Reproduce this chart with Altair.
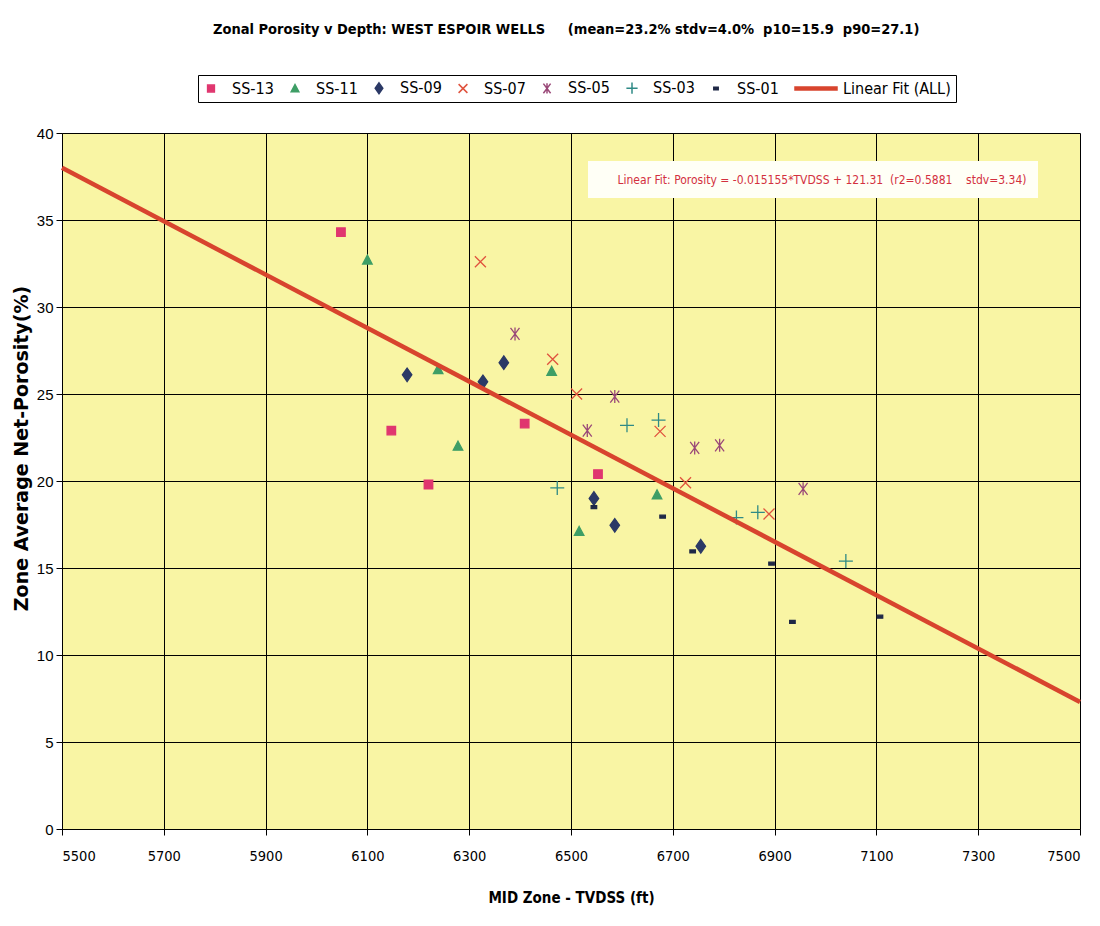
import altair as alt
import pandas as pd

# ---------------- data ----------------
series_names = ["SS-13", "SS-11", "SS-09", "SS-07", "SS-05", "SS-03", "SS-01"]
fit_label = "Linear Fit (ALL)"

ss13_depth = [6048, 6147, 6220, 6409, 6553]
ss13_por = [34.3, 22.9, 19.8, 23.3, 20.4]
ss11_depth = [6100, 6239, 6278, 6462, 6516, 6669]
ss11_por = [32.7, 26.4, 22.0, 26.3, 17.1, 19.2]
ss09_depth = [6178, 6327, 6368, 6545, 6586, 6755]
ss09_por = [26.1, 25.7, 26.8, 19.0, 17.45, 16.25]
ss07_depth = [6322, 6464, 6511, 6675, 6725, 6889]
ss07_por = [32.6, 27.0, 25.0, 22.85, 19.9, 18.1]
ss05_depth = [6390, 6532, 6586, 6743, 6792, 6956]
ss05_por = [28.45, 22.9, 24.85, 21.9, 22.05, 19.55]
ss03_depth = [6473, 6610, 6672, 6825, 6867, 7040]
ss03_por = [19.6, 23.2, 23.5, 17.9, 18.2, 15.4]
ss01_depth = [6545, 6680, 6739, 6894, 6935, 7107]
ss01_por = [18.5, 17.95, 15.95, 15.25, 11.9, 12.2]

fit_depth = [5500, 7500]
fit_por = [38.0, 7.3]

x_ticks = [5500, 5700, 5900, 6100, 6300, 6500, 6700, 6900, 7100, 7300, 7500]
y_ticks = [0, 5, 10, 15, 20, 25, 30, 35, 40]

NB = "\u00a0"
title_text = ("Zonal Porosity v Depth: WEST ESPOIR WELLS" + NB * 5 +
              "(mean=23.2%" + NB + "stdv=4.0%" + NB + " p10=15.9" + NB * 2 + "p90=27.1)")
fit_text = ("Linear Fit: Porosity = -0.015155*TVDSS + 121.31" + NB * 2 +
            "(r2=0.5881" + NB * 4 + "stdv=3.34)")

# ---------------- tables built from the arrays ----------------
depths = [ss13_depth, ss11_depth, ss09_depth, ss07_depth, ss05_depth, ss03_depth, ss01_depth]
pors = [ss13_por, ss11_por, ss09_por, ss07_por, ss05_por, ss03_por, ss01_por]
rows = []
for name, ds, ps in zip(series_names, depths, pors):
    for d, p in zip(ds, ps):
        rows.append({"Well": name, "TVDSS": d, "Porosity": p})
points_df = pd.DataFrame(rows)
fit_df = pd.DataFrame({"TVDSS": fit_depth, "Porosity": fit_por})
note_df = pd.DataFrame({"note": [fit_text]})

# ---------------- styling ----------------
NARROW = "Liberation Sans Narrow, Arial Narrow, DejaVu Sans Condensed, Liberation Sans"
REG = "Liberation Sans, Arial"
domain = series_names + [fit_label]
fit_color = "#D8442E"
colors = ["#E0366F", "#3E9E66", "#2B3966", "#E0533E", "#9A4878", "#2F8A86", "#1F2846", fit_color]
fills = ["#E0366F", "#3E9E66", "#2B3966", "transparent", "transparent", "transparent", "#1F2846", fit_color]
# marker outlines (unit = half of sqrt(size)); relative marker sizes are built into the paths
shapes = [
    "M-0.85,-0.85L0.85,-0.85L0.85,0.85L-0.85,0.85Z",
    "M0,-1L0.95,0.8L-0.95,0.8Z",
    "M0,-1.35L0.95,0L0,1.35L-0.95,0Z",
    "M-1.1,-1.1L1.1,1.1M-1.1,1.1L1.1,-1.1",
    "M-0.9,-1.2L0.9,1.2M-0.9,1.2L0.9,-1.2M0,-1.3L0,1.3",
    "M-1.4,0L1.4,0M0,-1.4L0,1.4",
    "M-0.55,-0.3L0.55,-0.3L0.55,0.3L-0.55,0.3Z",
    "M-6.75,-0.35L3.75,-0.35L3.75,0.35L-6.75,0.35Z",
]

legend = alt.Legend(
    title=None, orient="none", legendX=136, legendY=-58, direction="horizontal",
    strokeColor="black", fillColor="white", padding=5,
    labelFont=NARROW, labelFontSize=16, labelColor="black",
    symbolSize=64, labelOffset=13, columnPadding=13, labelLimit=300,
)

base_x = alt.X("TVDSS:Q",
               scale=alt.Scale(domain=[5500, 7500], nice=False, zero=False),
               axis=alt.Axis(values=x_ticks, format="d", title="MID Zone - TVDSS (ft)",
                             labelFont=NARROW, labelFontSize=14.5, labelPadding=14,
                             titleFont=NARROW, titleFontSize=15, titleFontWeight="bold",
                             titlePadding=28))
base_y = alt.Y("Porosity:Q",
               scale=alt.Scale(domain=[0, 40], nice=False),
               axis=alt.Axis(values=y_ticks, title="Zone Average Net-Porosity(%)",
                             labelFont=REG, labelFontSize=15, labelPadding=3,
                             titleFont="DejaVu Sans", titleFontSize=19, titleFontWeight="bold",
                             titleX=-41, titleY=315, titleAngle=270,
                             titleAlign="center", titleBaseline="middle"))

points = alt.Chart(points_df).mark_point(opacity=1, strokeWidth=1.3, size=100).encode(
    x=base_x,
    y=base_y,
    shape=alt.Shape("Well:N", legend=legend, scale=alt.Scale(domain=domain, range=shapes)),
    fill=alt.Fill("Well:N", legend=legend, scale=alt.Scale(domain=domain, range=fills)),
    stroke=alt.Stroke("Well:N", legend=legend, scale=alt.Scale(domain=domain, range=colors)),
)

fit_line = alt.Chart(fit_df).mark_line(color=fit_color, strokeWidth=4.5).encode(
    x="TVDSS:Q", y="Porosity:Q"
)

note_box = alt.Chart(note_df).mark_rect(fill="#FFFFF6").encode(
    x=alt.value(526), x2=alt.value(976), y=alt.value(28), y2=alt.value(65)
)
note_text = alt.Chart(note_df).mark_text(
    font=NARROW, fontSize=12, color="#D3303E", align="center", baseline="middle"
).encode(x=alt.value(760), y=alt.value(47), text="note:N")

chart = alt.layer(points, fit_line, note_box, note_text).properties(
    width=1018,
    height=696,
    background="white",
    autosize=alt.AutoSizeParams(type="none"),
    padding={"left": 54, "top": 125, "right": 12, "bottom": 90},
    title=alt.TitleParams(text=title_text, anchor="start", frame="group", dx=151, offset=37,
                          font=NARROW, fontSize=14.5, fontWeight="bold", color="black"),
).configure_view(
    fill="#F9F5A4", stroke=None
).configure_axis(
    grid=True, gridColor="black", gridOpacity=1, gridWidth=1,
    domainColor="black", domainWidth=1, tickColor="black", tickSize=6,
    labelColor="black", titleColor="black"
)

chart.save("out.html", embed_options={"renderer": "svg", "actions": False})
